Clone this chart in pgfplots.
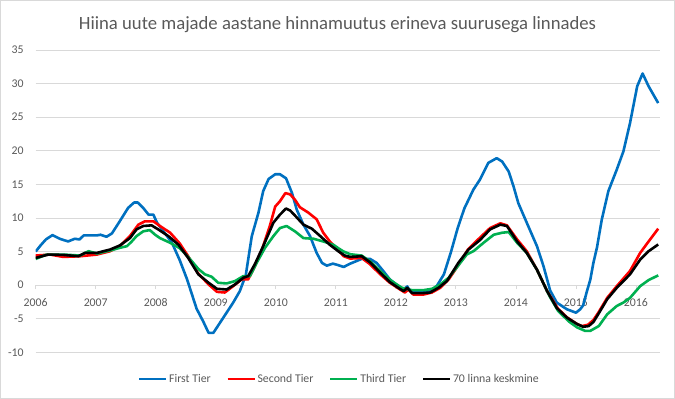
\documentclass[border=0pt]{standalone}
\usepackage{pgfplots}
\pgfplotsset{compat=1.18}
\usepackage{fontspec}
\setmainfont{Carlito}
\definecolor{tgray}{HTML}{595959}
\definecolor{ggray}{HTML}{D9D9D9}
\definecolor{cblue}{HTML}{0070C0}
\definecolor{cred}{HTML}{FF0000}
\definecolor{cgreen}{HTML}{00B050}
\begin{document}
\begin{tikzpicture}
\path[use as bounding box] (0pt,0pt) rectangle (675pt,399pt);
\draw[ggray, line width=0.75pt] (0.5pt,0.5pt) rectangle (674.5pt,398.5pt);
\node[anchor=base, font=\fontsize{18.7}{22}\selectfont, text=tgray] at (337.5pt,369.7pt) {Hiina uute majade aastane hinnamuutus erineva suurusega linnades};
\begin{axis}[
  at={(35.7pt,46.7pt)}, anchor=south west,
  scale only axis, width=624.3pt, height=302.3pt,
  xmin=2006, xmax=2016.4, ymin=-10, ymax=35,
  axis x line*=middle, axis y line*=left,
  y axis line style={draw=none},
  x axis line style={ggray, line width=0.75pt},
  xtick={2006,2007,...,2016}, xtick align=outside, major tick length=4pt,
  xtick style={ggray, line width=0.75pt},
  ytick={-10,-5,...,35}, ytick style={draw=none},
  ymajorgrids, grid style={ggray, line width=0.75pt},
  tick label style={font=\fontsize{11.8}{13}\selectfont, text=tgray},
  /pgf/number format/assume math mode=true,
  /pgf/number format/1000 sep={},
  yticklabel style={xshift=-8.5pt},
  xticklabel style={yshift=-6pt},
  hide obscured x ticks=false,
  legend columns=4,
  legend style={at={(0.486,-0.088)}, anchor=center, draw=none, fill=none,
    font=\fontsize{11.8}{13}\selectfont, text=tgray,
    nodes={inner sep=1.5pt},
    /tikz/every even column/.append style={column sep=14pt}},
  legend image code/.code={\draw[#1, line width=2.8pt] (0pt,0pt) -- (27pt,0pt);},
  every axis plot/.append style={line width=2.6pt, line join=round, no markers},
]
\addplot[cblue] coordinates {
(2006.0,5.0)(2006.08,5.9)(2006.17,6.8)(2006.28,7.45)(2006.4,6.9)(2006.54,6.5)(2006.65,6.9)(2006.73,6.8)(2006.8,7.4)
(2007.02,7.4)(2007.08,7.5)(2007.18,7.2)(2007.27,7.7)(2007.4,9.5)(2007.54,11.5)(2007.64,12.3)(2007.7,12.3)(2007.79,11.5)(2007.88,10.5)(2007.96,10.5)
(2008.02,9.3)(2008.13,8.0)(2008.27,6.3)(2008.4,3.7)(2008.52,0.9)(2008.6,-1.3)(2008.68,-3.5)(2008.79,-5.4)(2008.88,-7.1)(2008.96,-7.1)
(2009.07,-5.6)(2009.18,-4.1)(2009.29,-2.6)(2009.4,-0.9)(2009.5,1.5)(2009.6,7.3)(2009.71,10.75)(2009.79,14.0)(2009.88,15.8)(2009.99,16.5)
(2010.07,16.5)(2010.17,15.9)(2010.27,13.7)(2010.35,11.2)(2010.46,9.0)(2010.57,7.3)(2010.68,4.8)(2010.77,3.3)(2010.85,2.9)(2010.95,3.2)
(2011.03,3.0)(2011.13,2.7)(2011.24,3.2)(2011.43,3.9)(2011.57,3.9)(2011.68,3.3)(2011.79,2.1)(2011.9,0.85)
(2012.02,0.0)(2012.13,-0.6)(2012.19,-0.2)(2012.24,-0.9)(2012.35,-1.1)(2012.57,-0.9)(2012.68,-0.15)(2012.8,1.6)(2012.92,5.0)
(2013.03,8.5)(2013.14,11.4)(2013.29,14.2)(2013.4,15.7)(2013.54,18.2)(2013.68,18.9)(2013.77,18.4)(2013.88,16.9)(2013.96,14.7)
(2014.04,12.2)(2014.18,9.3)(2014.35,5.8)(2014.46,2.8)(2014.57,-0.8)(2014.68,-2.6)(2014.85,-3.6)(2015.0,-4.1)
(2015.07,-3.6)(2015.12,-3.0)(2015.18,-1.0)(2015.24,0.85)(2015.29,3.3)(2015.35,5.6)(2015.43,9.75)(2015.54,14.0)(2015.68,17.2)(2015.79,19.9)(2015.9,24.1)
(2016.02,29.6)(2016.11,31.5)(2016.21,29.6)(2016.37,27.1)
};
\addlegendentry{First Tier}
\addplot[cred] coordinates {
(2006.0,4.4)(2006.24,4.55)(2006.46,4.2)(2006.74,4.3)
(2007.02,4.55)(2007.24,5.05)(2007.4,5.8)(2007.57,7.3)(2007.71,9.0)(2007.82,9.5)(2007.96,9.5)
(2008.07,8.8)(2008.24,7.8)(2008.4,6.2)(2008.54,4.3)(2008.7,1.8)(2008.88,0.1)
(2009.02,-1.0)(2009.15,-1.1)(2009.29,-0.15)(2009.43,0.85)(2009.54,0.85)(2009.65,2.8)(2009.77,5.3)(2009.9,8.8)(2009.99,11.7)
(2010.07,12.5)(2010.16,13.7)(2010.24,13.5)(2010.32,12.7)(2010.4,11.6)(2010.54,10.8)(2010.68,9.8)(2010.79,7.8)(2010.9,6.5)
(2011.02,5.4)(2011.13,4.3)(2011.24,3.95)(2011.43,4.05)(2011.57,3.1)(2011.74,1.6)(2011.9,0.35)
(2012.07,-0.65)(2012.15,-1.1)(2012.21,-0.65)(2012.29,-1.4)(2012.46,-1.4)(2012.6,-1.1)(2012.74,-0.4)(2012.88,0.85)
(2013.05,3.1)(2013.2,5.3)(2013.37,6.8)(2013.57,8.5)(2013.74,9.2)(2013.85,8.9)
(2014.02,6.8)(2014.18,5.05)(2014.35,2.3)(2014.52,-0.9)(2014.7,-3.5)(2014.85,-4.8)
(2015.02,-5.8)(2015.1,-6.1)(2015.2,-5.9)(2015.29,-5.2)(2015.38,-4.0)(2015.52,-1.9)(2015.68,-0.15)(2015.9,2.1)
(2016.07,4.8)(2016.21,6.5)(2016.37,8.4)
};
\addlegendentry{Second Tier}
\addplot[cgreen] coordinates {
(2006.0,3.9)(2006.18,4.55)(2006.46,4.55)(2006.74,4.4)(2006.88,5.05)
(2007.02,4.7)(2007.24,5.15)(2007.4,5.55)(2007.52,5.8)(2007.6,6.5)(2007.68,7.3)(2007.79,8.0)(2007.9,8.2)(2007.99,7.5)
(2008.07,7.0)(2008.24,6.3)(2008.4,5.5)(2008.54,4.2)(2008.71,2.4)(2008.82,1.6)(2008.93,1.25)
(2009.04,0.35)(2009.18,0.25)(2009.32,0.6)(2009.46,1.35)(2009.57,1.35)(2009.68,3.3)(2009.82,5.55)(2009.96,7.3)
(2010.07,8.5)(2010.18,8.8)(2010.32,8.0)(2010.46,7.0)(2010.63,6.9)(2010.79,6.5)(2010.96,6.0)
(2011.04,5.5)(2011.13,5.0)(2011.24,4.6)(2011.43,4.4)(2011.57,3.55)(2011.74,2.1)(2011.93,0.6)
(2012.1,-0.4)(2012.27,-0.75)(2012.46,-0.75)(2012.6,-0.55)(2012.74,0.1)(2012.88,1.1)
(2013.02,2.7)(2013.18,4.55)(2013.3,5.1)(2013.46,6.3)(2013.63,7.5)(2013.77,7.8)(2013.88,7.9)
(2014.02,6.3)(2014.18,4.8)(2014.35,2.3)(2014.52,-0.9)(2014.57,-1.8)(2014.7,-3.8)(2014.88,-5.4)
(2015.02,-6.3)(2015.15,-6.8)(2015.24,-6.8)(2015.38,-6.1)(2015.52,-4.35)(2015.68,-3.1)(2015.79,-2.6)(2015.9,-1.9)
(2016.07,-0.15)(2016.21,0.75)(2016.37,1.45)
};
\addlegendentry{Third Tier}
\addplot[black] coordinates {
(2006.0,4.05)(2006.21,4.55)(2006.46,4.5)(2006.71,4.3)(2006.82,4.8)
(2007.02,4.8)(2007.24,5.3)(2007.4,5.9)(2007.57,7.0)(2007.68,8.3)(2007.79,8.8)(2007.93,8.9)
(2008.04,8.3)(2008.21,7.3)(2008.38,6.0)(2008.54,4.05)(2008.71,1.6)(2008.88,0.35)
(2009.02,-0.55)(2009.18,-0.65)(2009.32,0.1)(2009.46,1.1)(2009.54,1.35)(2009.65,3.1)(2009.79,5.8)(2009.96,9.3)
(2010.07,10.5)(2010.17,11.4)(2010.24,11.1)(2010.32,10.35)(2010.46,9.0)(2010.6,8.4)(2010.74,7.3)(2010.9,6.0)
(2011.04,5.05)(2011.15,4.4)(2011.24,4.2)(2011.43,4.3)(2011.57,3.4)(2011.74,1.85)(2011.9,0.45)
(2012.04,-0.4)(2012.13,-0.9)(2012.19,-0.4)(2012.27,-1.2)(2012.43,-1.2)(2012.57,-1.1)(2012.71,-0.4)(2012.85,0.6)
(2013.04,3.3)(2013.21,5.3)(2013.4,6.7)(2013.57,8.3)(2013.74,9.0)(2013.85,8.8)
(2014.02,6.5)(2014.18,4.8)(2014.35,2.3)(2014.52,-0.9)(2014.68,-3.4)(2014.85,-4.85)
(2015.02,-5.8)(2015.12,-6.2)(2015.21,-6.1)(2015.29,-5.5)(2015.38,-4.2)(2015.52,-2.1)(2015.68,-0.4)(2015.9,1.6)
(2016.07,3.8)(2016.21,5.05)(2016.37,6.05)
};
\addlegendentry{70 linna keskmine}
\end{axis}
\end{tikzpicture}
\end{document}
